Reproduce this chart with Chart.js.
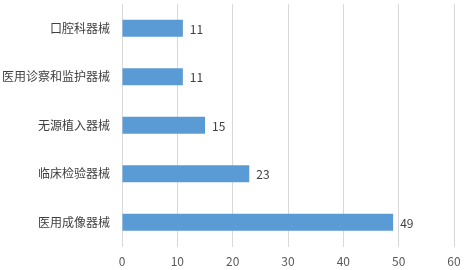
<!DOCTYPE html>
<html>
<head>
<meta charset="utf-8">
<script src="https://cdn.jsdelivr.net/npm/chart.js@4/dist/chart.umd.min.js"></script>
<style>
  html, body { margin: 0; padding: 0; background: #fff; }
  #wrap { width: 464px; height: 270px; }
</style>
</head>
<body>
<div id="wrap"><canvas id="chart" width="464" height="270"></canvas></div>
<script>
var categories = ['口腔科器械', '医用诊察和监护器械', '无源植入器械', '临床检验器械', '医用成像器械'];
var counts = [11, 11, 15, 23, 49];
var xTicks = [0, 10, 20, 30, 40, 50, 60];

var fontFamily = '"Noto Sans CJK SC", "Noto Sans", sans-serif';

// draw the value just past the end of each bar
var valueLabels = {
    id: 'valueLabels',
    afterDatasetsDraw: function (chart) {
        var ctx = chart.ctx;
        var meta = chart.getDatasetMeta(0);
        ctx.save();
        ctx.font = '12px ' + fontFamily;
        ctx.fillStyle = '#404040';
        ctx.textAlign = 'left';
        ctx.textBaseline = 'middle';
        meta.data.forEach(function (bar, i) {
            ctx.fillText(String(counts[i]), bar.x + 7, bar.y + 1);
        });
        ctx.restore();
    }
};

new Chart(document.getElementById('chart').getContext('2d'), {
    type: 'bar',
    data: {
        labels: categories,
        datasets: [{
            label: '数量',
            data: counts,
            backgroundColor: '#5B9BD5',
            categoryPercentage: 1,
            barPercentage: 0.35
        }]
    },
    options: {
        indexAxis: 'y',
        responsive: false,
        animation: false,
        layout: { padding: { top: 4, right: 10, left: 0, bottom: 0 } },
        plugins: {
            legend: { display: false },
            tooltip: { enabled: false }
        },
        scales: {
            x: {
                min: 0,
                max: 60,
                afterBuildTicks: function (scale) {
                    scale.ticks = xTicks.map(function (v) { return { value: v }; });
                },
                grid: { color: '#D9D9D9', drawTicks: false },
                border: { display: false },
                ticks: {
                    padding: 8,
                    color: '#595959',
                    font: { family: fontFamily, size: 12 }
                },
                afterFit: function (scale) {
                    scale.height = 23.5;
                    scale.paddingLeft = 0;
                    scale.paddingRight = 0;
                }
            },
            y: {
                grid: { display: false },
                border: { display: false },
                ticks: {
                    padding: 4,
                    color: '#404040',
                    font: { family: fontFamily, size: 12 }
                },
                afterFit: function (scale) {
                    scale.width = 122;
                    scale.paddingTop = 0;
                    scale.paddingBottom = 0;
                }
            }
        }
    },
    plugins: [valueLabels]
});
</script>
</body>
</html>
